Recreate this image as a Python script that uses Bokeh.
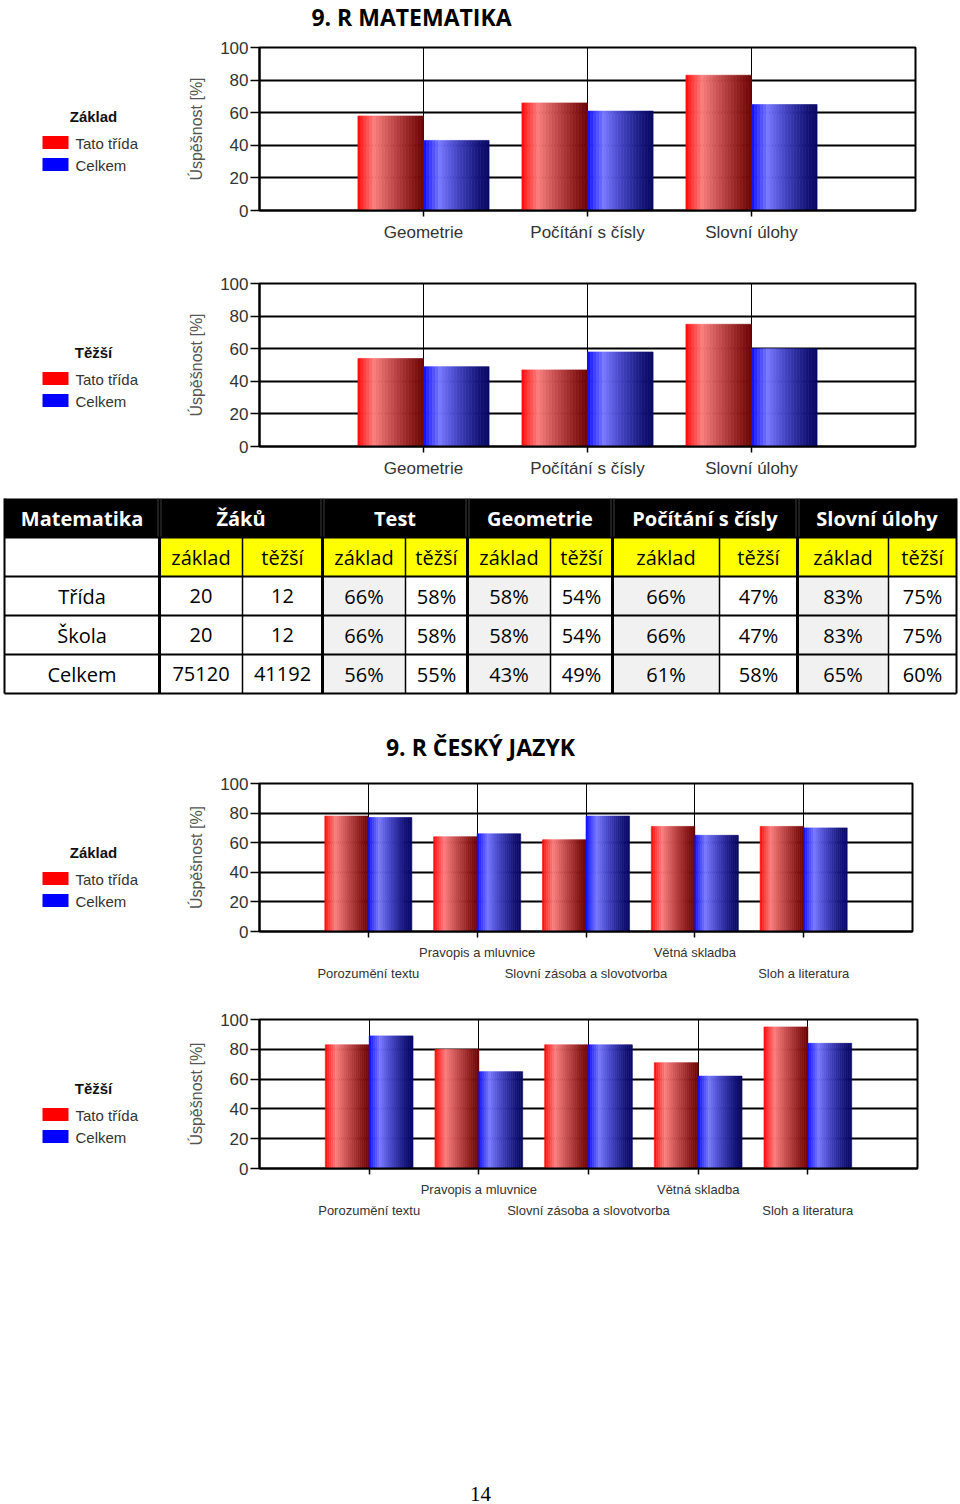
import numpy as np
from bokeh.plotting import figure
from bokeh.models import Range1d, FixedTicker, LinearAxis, ColumnDataSource
from bokeh.layouts import column, row
from bokeh.core.properties import value
from bokeh.embed import file_html
from bokeh.resources import INLINE

# ---------------- data ----------------
math_categories = ["Geometrie", "Počítání s čísly", "Slovní úlohy"]
czech_categories = ["Porozumění textu", "Pravopis a mluvnice", "Slovní zásoba a slovotvorba",
                    "Větná skladba", "Sloh a literatura"]
series_names = ["Tato třída", "Celkem"]

table_groups = ["Matematika", "Žáků", "Test", "Geometrie", "Počítání s čísly", "Slovní úlohy"]
table_levels = ["základ", "těžší"]
table_rows = ["Třída", "Škola", "Celkem"]
zaku_zaklad = [20, 20, 75120]
zaku_tezsi = [12, 12, 41192]
test_zaklad = [66, 66, 56]
test_tezsi = [58, 58, 55]
geometrie_zaklad = [58, 58, 43]
geometrie_tezsi = [54, 54, 49]
pocitani_zaklad = [66, 66, 61]
pocitani_tezsi = [47, 47, 58]
slovni_zaklad = [83, 83, 65]
slovni_tezsi = [75, 75, 60]

cj_zaklad_trida = [78, 64, 62, 71, 71]
cj_zaklad_celkem = [77, 66, 78, 65, 70]
cj_tezsi_trida = [83, 80, 83, 71, 95]
cj_tezsi_celkem = [89, 65, 83, 62, 84]

y_ticks = [0, 20, 40, 60, 80, 100]

# ---------------- styles ----------------
SANS = "Liberation Sans"
UI = "Open Sans"
SERIF = "Liberation Serif"

RED_STOPS = [(0.0, (255, 5, 5)), (0.08, (255, 50, 50)), (0.25, (250, 125, 125)),
             (0.5, (200, 80, 80)), (0.85, (135, 22, 22)), (1.0, (110, 5, 5))]
BLUE_STOPS = [(0.0, (10, 10, 255)), (0.08, (50, 50, 255)), (0.25, (120, 120, 255)),
              (0.5, (70, 70, 200)), (0.85, (20, 20, 120)), (1.0, (8, 8, 100))]
LEGEND_COLORS = ["#ff0000", "#0000ff"]

N_STRIPS = 22
BAR_W = 0.4
LEG_W = 150
CH_W = 960 - LEG_W
FRAME_LEFT = 259


def shade(stops, t):
    pos = [s[0] for s in stops]
    rgb = [int(round(np.interp(t, pos, [s[1][k] for s in stops]))) for k in range(3)]
    return "#%02x%02x%02x" % tuple(rgb)


def gradient_bars(p, xs, tops, offset, stops):
    data = dict(x=[], top=[], color=[])
    sw = BAR_W / N_STRIPS
    for xc, v in zip(xs, tops):
        for i in range(N_STRIPS):
            t = (i + 0.5) / N_STRIPS
            data["x"].append(xc + offset - BAR_W / 2 + (i + 0.5) * sw)
            data["top"].append(v)
            data["color"].append(shade(stops, t))
    p.vbar(x="x", top="top", bottom=0, width=sw, source=ColumnDataSource(data),
           fill_color="color", line_color="color", line_width=0.6)


def bar_chart(categories, trida, celkem, frame_w, top, frame_h, bottom, label_size, stagger):
    n = len(categories)
    xs = list(range(1, n + 1))
    left = FRAME_LEFT - LEG_W
    p = figure(width=CH_W, height=top + frame_h + bottom, x_range=Range1d(0, n + 1),
               y_range=Range1d(0, 100), output_backend="svg", toolbar_location=None, tools="",
               min_border_left=left, min_border_right=CH_W - left - frame_w,
               min_border_top=top, min_border_bottom=bottom)
    p.outline_line_color = "black"
    p.outline_line_width = 2
    p.background_fill_color = "white"
    p.border_fill_color = "white"

    yax = p.yaxis[0]
    yax.ticker = FixedTicker(ticks=y_ticks)
    yax.axis_label = "Úspěšnost [%]"
    yax.axis_label_text_font = SANS
    yax.axis_label_text_font_size = "16px"
    yax.axis_label_text_font_style = "normal"
    yax.axis_label_text_color = "#555555"
    yax.axis_label_standoff = 12
    yax.major_label_text_font = SANS
    yax.major_label_text_font_size = "17px"
    yax.major_label_text_color = "#333333"
    yax.major_label_standoff = 2
    yax.major_tick_out = 9
    yax.major_tick_in = 0
    yax.minor_tick_line_color = None
    yax.axis_line_color = "black"
    yax.axis_line_width = 2
    yax.major_tick_line_color = "black"
    yax.major_tick_line_width = 1.5

    p.ygrid.ticker = FixedTicker(ticks=y_ticks)
    p.ygrid.grid_line_color = "black"
    p.ygrid.grid_line_width = 2
    p.xgrid.ticker = FixedTicker(ticks=xs)
    p.xgrid.grid_line_color = "black"
    p.xgrid.grid_line_width = 1

    xax = p.xaxis[0]
    xax.ticker = FixedTicker(ticks=xs)
    xax.axis_line_color = "black"
    xax.axis_line_width = 2
    xax.major_tick_line_color = "black"
    xax.major_tick_line_width = 1.5
    xax.major_tick_out = 6
    xax.major_tick_in = 0
    xax.minor_tick_line_color = None
    xax.major_label_text_font = SANS
    xax.major_label_text_font_size = label_size
    xax.major_label_text_color = "#333333"
    if stagger:
        xax.major_label_standoff = 7
        xax.major_label_overrides = {x: (c if x % 2 == 0 else " ") for x, c in zip(xs, categories)}
        ax2 = LinearAxis(ticker=FixedTicker(ticks=xs[0::2]),
                         major_label_overrides={x: c for x, c in zip(xs, categories) if x % 2 == 1})
        ax2.axis_line_color = None
        ax2.major_tick_line_color = None
        ax2.minor_tick_line_color = None
        ax2.major_tick_out = 0
        ax2.major_tick_in = 0
        ax2.major_label_text_font = SANS
        ax2.major_label_text_font_size = label_size
        ax2.major_label_text_color = "#333333"
        ax2.major_label_standoff = 3
        p.add_layout(ax2, "below")
    else:
        xax.major_label_standoff = 6
        xax.major_label_overrides = {x: c for x, c in zip(xs, categories)}

    gradient_bars(p, xs, trida, -BAR_W / 2, RED_STOPS)
    gradient_bars(p, xs, celkem, BAR_W / 2, BLUE_STOPS)
    return p


def page_fig(width, height, y0):
    f = figure(width=width, height=height, x_range=Range1d(0, width),
               y_range=Range1d(y0 + height, y0), output_backend="svg",
               toolbar_location=None, tools="", min_border=0,
               x_axis_location=None, y_axis_location=None)
    f.grid.visible = False
    f.outline_line_color = None
    f.background_fill_color = "white"
    f.border_fill_color = "white"
    return f


def legend_fig(title, top, frame_h, bottom):
    # frame of this figure is aligned with the neighbouring chart frame;
    # y coordinates are pixels measured from the frame top
    f = figure(width=LEG_W, height=top + frame_h + bottom, x_range=Range1d(0, LEG_W),
               y_range=Range1d(frame_h, 0), output_backend="svg", toolbar_location=None, tools="",
               min_border_left=0, min_border_right=0, min_border_top=top, min_border_bottom=bottom,
               x_axis_location=None, y_axis_location=None)
    f.grid.visible = False
    f.outline_line_color = None
    f.background_fill_color = "white"
    f.border_fill_color = "white"
    f.text(x=[93], y=[69], text=[title], text_font=value(SANS),
           text_font_size="15px", text_font_style="bold", text_align="center",
           text_baseline="middle", text_color="#111111")
    ys = [95, 117]
    f.quad(left=[42, 42], right=[68, 68], top=[y - 6.5 for y in ys], bottom=[y + 6.5 for y in ys],
           fill_color=LEGEND_COLORS, line_color=None)
    f.text(x=[75, 75], y=[y + 1 for y in ys], text=series_names, text_font=value(SANS),
           text_font_size="15px", text_align="left", text_baseline="middle",
           text_color="#333333")
    return f


# ---------------- title ----------------
title_math = page_fig(960, 33, 0)
title_math.text(x=[411], y=[16.5], text=["9. R MATEMATIKA"], text_font=value(UI),
                text_font_size="23px", text_font_style="bold", text_align="center",
                text_baseline="middle", text_color="black")

# ---------------- math charts ----------------
m_idx_trida, m_idx_celkem = 0, 2
ch1 = bar_chart(math_categories,
                [geometrie_zaklad[m_idx_trida], pocitani_zaklad[m_idx_trida], slovni_zaklad[m_idx_trida]],
                [geometrie_zaklad[m_idx_celkem], pocitani_zaklad[m_idx_celkem], slovni_zaklad[m_idx_celkem]],
                656, 14, 163, 48, "17px", False)
ch2 = bar_chart(math_categories,
                [geometrie_tezsi[m_idx_trida], pocitani_tezsi[m_idx_trida], slovni_tezsi[m_idx_trida]],
                [geometrie_tezsi[m_idx_celkem], pocitani_tezsi[m_idx_celkem], slovni_tezsi[m_idx_celkem]],
                656, 25, 163, 44, "17px", False)
row1 = row(legend_fig("Základ", 14, 163, 48), ch1)
row2 = row(legend_fig("Těžší", 25, 163, 44), ch2)

# ---------------- table ----------------
tab = page_fig(960, 280, 490)
col_edges = [4, 159, 242, 322, 405, 467, 550, 612, 719, 797, 888, 956]
row_edges = [498, 537, 576, 615, 654, 693]
group_spans = [(0, 1), (1, 3), (3, 5), (5, 7), (7, 9), (9, 11)]
data_cols = [zaku_zaklad, zaku_tezsi, test_zaklad, test_tezsi, geometrie_zaklad, geometrie_tezsi,
             pocitani_zaklad, pocitani_tezsi, slovni_zaklad, slovni_tezsi]

tab.quad(left=[col_edges[0]], right=[col_edges[-1]], top=[row_edges[0]], bottom=[row_edges[1]],
         fill_color="black", line_color=None)
tab.quad(left=col_edges[1:-1], right=col_edges[2:], top=[row_edges[1]] * 10, bottom=[row_edges[2]] * 10,
         fill_color="#ffff00", line_color=None)
gl, gr, gt, gb = [], [], [], []
for ci in range(2, 10, 2):
    for ri in range(3):
        gl.append(col_edges[ci + 1]); gr.append(col_edges[ci + 2])
        gt.append(row_edges[ri + 2]); gb.append(row_edges[ri + 3])
tab.quad(left=gl, right=gr, top=gt, bottom=gb, fill_color="#f1f1f1", line_color=None)

for a, b in group_spans[1:]:
    xg = col_edges[a]
    tab.segment(x0=[xg - 1.5, xg + 1.5], y0=[row_edges[0]] * 2, x1=[xg - 1.5, xg + 1.5],
                y1=[row_edges[1]] * 2, line_color="#3c3c3c", line_width=1)
tab.segment(x0=[col_edges[0]] * 5, x1=[col_edges[-1]] * 5, y0=row_edges[1:], y1=row_edges[1:],
            line_color="black", line_width=2)
tab.segment(x0=[col_edges[0], col_edges[-1]], x1=[col_edges[0], col_edges[-1]],
            y0=[row_edges[0]] * 2, y1=[row_edges[-1]] * 2, line_color="black", line_width=2)
group_x = [col_edges[a] for a, b in group_spans[1:]]
inner_x = [x for x in col_edges[1:-1] if x not in group_x]
tab.segment(x0=group_x, x1=group_x, y0=[row_edges[1]] * len(group_x), y1=[row_edges[-1]] * len(group_x),
            line_color="black", line_width=3)
tab.segment(x0=inner_x, x1=inner_x, y0=[row_edges[1]] * len(inner_x), y1=[row_edges[-1]] * len(inner_x),
            line_color="black", line_width=1.5)

hx = [(col_edges[a] + col_edges[b]) / 2 for a, b in group_spans]
tab.text(x=hx, y=[(row_edges[0] + row_edges[1]) / 2] * len(hx), text=table_groups,
         text_font=value(UI), text_font_size="20px", text_font_style="bold",
         text_align="center", text_baseline="middle", text_color="white")
sx = [(col_edges[i] + col_edges[i + 1]) / 2 for i in range(1, 11)]
tab.text(x=sx, y=[(row_edges[1] + row_edges[2]) / 2] * 10, text=table_levels * 5,
         text_font=value(UI), text_font_size="20px", text_align="center",
         text_baseline="middle", text_color="black")
tx, ty, tt = [], [], []
for ri, name in enumerate(table_rows):
    yc = (row_edges[ri + 2] + row_edges[ri + 3]) / 2
    tx.append((col_edges[0] + col_edges[1]) / 2); ty.append(yc); tt.append(name)
    for ci, col in enumerate(data_cols):
        tx.append((col_edges[ci + 1] + col_edges[ci + 2]) / 2); ty.append(yc)
        tt.append(str(col[ri]) if ci < 2 else f"{col[ri]}%")
tab.text(x=tx, y=ty, text=tt, text_font=value(UI), text_font_size="20px", text_align="center",
         text_baseline="middle", text_color="black")

tab.text(x=[480], y=[746], text=["9. R ČESKÝ JAZYK"], text_font=value(UI),
         text_font_size="23px", text_font_style="bold", text_align="center",
         text_baseline="middle", text_color="black")

# ---------------- czech charts ----------------
ch3 = bar_chart(czech_categories, cj_zaklad_trida, cj_zaklad_celkem, 653, 13, 148, 65, "13px", True)
ch4 = bar_chart(czech_categories, cj_tezsi_trida, cj_tezsi_celkem, 658, 23, 149, 72, "13px", True)
row3 = row(legend_fig("Základ", 13, 148, 65), ch3)
row4 = row(legend_fig("Těžší", 23, 149, 72), ch4)

# ---------------- footer ----------------
foot = page_fig(960, 264, 1240)
foot.text(x=[480], y=[1493], text=["14"], text_font=value(SERIF), text_font_size="21px",
          text_align="center", text_baseline="middle", text_color="black")

layout = column(title_math, row1, row2, tab, row3, row4, foot, spacing=0)
open("out.html", "w").write(file_html(layout, INLINE))
